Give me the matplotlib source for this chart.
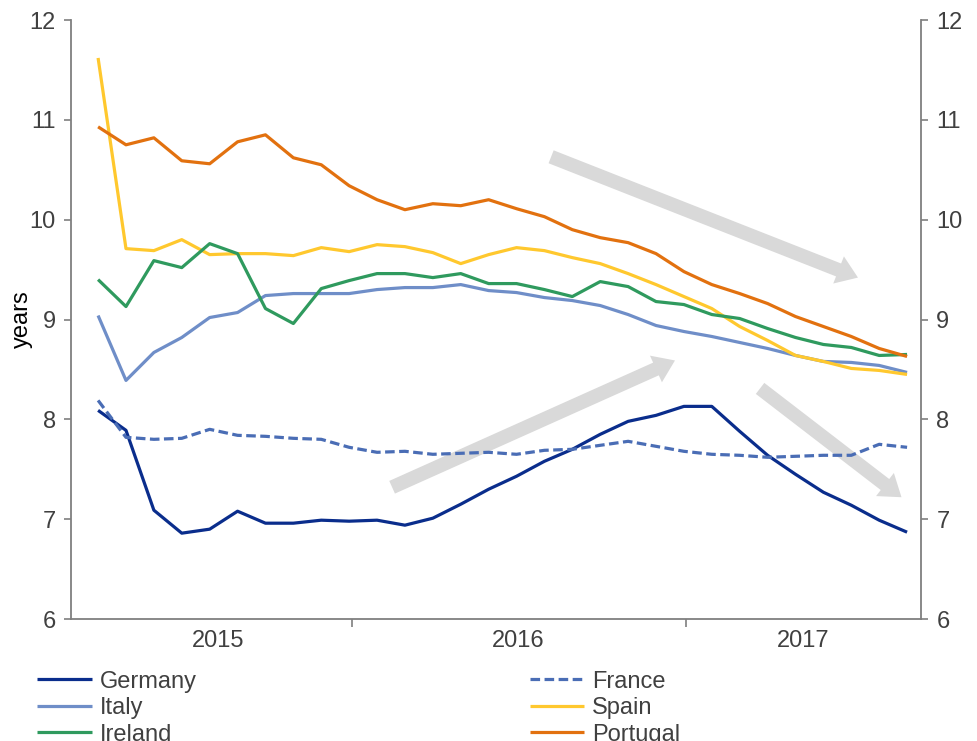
import matplotlib
matplotlib.use("Agg")
import matplotlib.pyplot as plt

plt.rcParams['font.family'] = ['Liberation Sans', 'DejaVu Sans']

# Monthly observations (index positions), Apr 2015 .. Sep 2017
germany = [8.09, 7.89, 7.09, 6.86, 6.90, 7.08, 6.96, 6.96, 6.99, 6.98,
           6.99, 6.94, 7.01, 7.15, 7.30, 7.43, 7.58, 7.70, 7.85, 7.98,
           8.04, 8.13, 8.13, 7.88, 7.64, 7.45, 7.27, 7.14, 6.99, 6.87]
france = [8.19, 7.82, 7.80, 7.81, 7.90, 7.84, 7.83, 7.81, 7.80, 7.72,
          7.67, 7.68, 7.65, 7.66, 7.67, 7.65, 7.69, 7.70, 7.74, 7.78,
          7.73, 7.68, 7.65, 7.64, 7.62, 7.63, 7.64, 7.64, 7.75, 7.72]
italy = [9.04, 8.39, 8.67, 8.82, 9.02, 9.07, 9.24, 9.26, 9.26, 9.26,
         9.30, 9.32, 9.32, 9.35, 9.29, 9.27, 9.22, 9.19, 9.14, 9.05,
         8.94, 8.88, 8.83, 8.77, 8.71, 8.64, 8.58, 8.57, 8.54, 8.47]
spain = [11.62, 9.71, 9.69, 9.80, 9.65, 9.66, 9.66, 9.64, 9.72, 9.68,
         9.75, 9.73, 9.67, 9.56, 9.65, 9.72, 9.69, 9.62, 9.56, 9.46,
         9.35, 9.23, 9.11, 8.93, 8.79, 8.64, 8.58, 8.51, 8.49, 8.45]
ireland = [9.40, 9.13, 9.59, 9.52, 9.76, 9.66, 9.11, 8.96, 9.31, 9.39,
           9.46, 9.46, 9.42, 9.46, 9.36, 9.36, 9.30, 9.23, 9.38, 9.33,
           9.18, 9.15, 9.05, 9.01, 8.91, 8.82, 8.75, 8.72, 8.64, 8.65]
portugal = [10.93, 10.75, 10.82, 10.59, 10.56, 10.78, 10.85, 10.62, 10.55, 10.34,
            10.20, 10.10, 10.16, 10.14, 10.20, 10.11, 10.03, 9.90, 9.82, 9.77,
            9.66, 9.48, 9.35, 9.26, 9.16, 9.03, 8.93, 8.83, 8.71, 8.63]

year_labels = ["2015", "2016", "2017"]
year_label_pos = [4.3, 15.05, 25.27]
year_bounds = [9.1, 21.08]

x = list(range(len(germany)))

TXT = '#404040'
SP = '#7f7f7f'

fig = plt.figure(figsize=(9.77, 7.41), dpi=100)
ax = fig.add_axes([0.0727, 0.1646, 0.8700, 0.8084])

lw = 2.3
series = [
    ("Germany", germany, '#0a2d8c', '-'),
    ("France", france, '#4a6db5', (0, (3.0, 1.4))),
    ("Italy", italy, '#6f8ec8', '-'),
    ("Spain", spain, '#ffc82e', '-'),
    ("Ireland", ireland, '#2f9a5e', '-'),
    ("Portugal", portugal, '#e2710f', '-'),
]
handles = {}
for name, vals, col, ls in series:
    h, = ax.plot(x, vals, color=col, lw=lw, ls=ls, zorder=3, solid_capstyle='butt')
    handles[name] = h

# trend arrows
arrows = [((16.24, 10.63), (27.24, 9.42)),
          ((10.54, 7.32), (20.68, 8.59)),
          ((23.73, 8.31), (28.80, 7.22))]
for tail, head in arrows:
    ax.annotate('', xy=head, xytext=tail,
                arrowprops=dict(arrowstyle='simple,head_length=1.5,head_width=2.1,tail_width=1.0',
                                mutation_scale=10, color='#d9d9d9', lw=0,
                                shrinkA=0, shrinkB=0), zorder=1)

ax.set_xlim(-0.97, 29.5)
ax.set_ylim(6, 12)

for s in ['left', 'right', 'bottom']:
    ax.spines[s].set_color(SP)
    ax.spines[s].set_linewidth(1.3)
ax.spines['top'].set_visible(False)

ax.set_yticks(range(6, 13))
ax.tick_params(axis='y', which='both', left=True, right=True, labelleft=True, labelright=True,
               direction='out', length=5, width=1.2, color=SP, labelsize=17, labelcolor=TXT, pad=6)
ax.set_xticks(year_bounds)
ax.set_xticklabels([])
ax.set_xticks(year_label_pos, minor=True)
ax.set_xticklabels(year_labels, minor=True)
ax.tick_params(axis='x', which='major', direction='out', length=6, width=1.2, color=SP)
ax.tick_params(axis='x', which='minor', length=0, labelsize=17, labelcolor=TXT, pad=8)

ax.set_ylabel('years', fontsize=17, color='black')
ax.yaxis.set_label_coords(-0.045, 0.5)

order = ["Germany", "Italy", "Ireland", "France", "Spain", "Portugal"]
leg = fig.legend([handles[n] for n in order], order, ncol=2, loc='upper left',
                 bbox_to_anchor=(0.0382, 0.095), frameon=False, fontsize=17,
                 handlelength=2.3, handletextpad=0.35, columnspacing=14.1,
                 labelspacing=0.19, borderpad=0, borderaxespad=0)
for t in leg.get_texts():
    t.set_color(TXT)

fig.savefig('out.png', dpi=100)
